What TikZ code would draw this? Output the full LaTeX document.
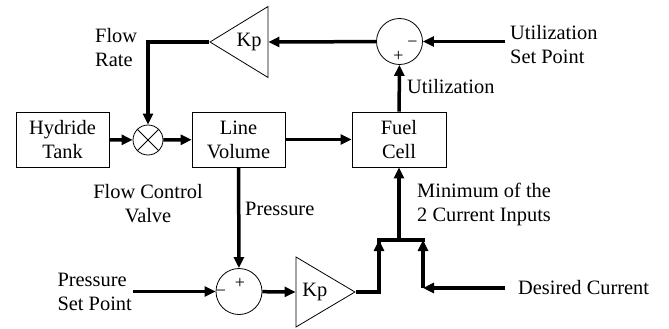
\documentclass[tikz,border=0pt]{standalone}
\usepackage{fontspec}
\setmainfont{Liberation Serif}
\usetikzlibrary{positioning,arrows.meta,shapes.geometric}
\tikzset{
  blk/.style={draw=black, line width=0.8pt, align=center, inner sep=2pt,
              minimum width=93pt, minimum height=55pt},
  sum/.style={circle, draw, line width=0.8pt, minimum size=46pt, inner sep=0pt},
  mix/.style={circle, draw, line width=0.8pt, minimum size=30pt, inner sep=0pt},
  gain/.style={isosceles triangle, isosceles triangle stretches, draw, line width=0.8pt,
               minimum width=71pt, minimum height=58pt, inner sep=0pt},
  ar/.style={-{Triangle[length=11pt,width=10pt]}, line width=3.5pt},
  wire/.style={line width=3.5pt},
  lbl/.style={align=left, inner sep=0pt},
  sgn/.style={font=\fontsize{18}{18}\selectfont, inner sep=0pt},
}

\begin{document}
\begin{tikzpicture}[x=1pt, y=-1pt, font=\fontsize{20.4}{24}\selectfont]
\useasboundingbox (0,0) rectangle (669,329);

% forward path
\node[blk] (tank) at (62.5,139.5) {Hydride\\Tank};
\node[mix] (valve) at (148,140) {};
\draw[line width=0.8pt] (valve.north west) -- (valve.south east)
                        (valve.north east) -- (valve.south west);
\node[blk] (vol)  at (238.5,139.5) {Line\\Volume};
\node[blk, minimum width=94pt] (cell) at (399,139.5) {Fuel\\Cell};

\draw[ar] (tank) -- (valve);
\draw[ar] (valve) -- (vol);
\draw[ar] (vol) -- (cell);
\node[align=center, inner sep=0pt] (fcv) at (148,204) {Flow Control\\Valve};

% utilization loop
\node[sum] (usum) at (399.5,41.5) {};
\node[sgn, xshift=13pt, yshift=-3pt] at (usum) {−};
\node[sgn, yshift=-15pt, xshift=-1pt] at (usum) {+};
\node[gain, shape border rotate=180, anchor=apex] (kpu) at (209,42) {Kp};
\node[lbl, anchor=west, inner xsep=5pt] (uset) at (505,45) {Utilization\\Set Point};
\node[lbl, anchor=west] (util) at (407,87) {Utilization};
\node[lbl, anchor=west] (frate) at (95,47.5) {Flow\\Rate};

\draw[ar] (cell) -- (usum);
\draw[ar] (uset.west |- usum) -- (usum);
\draw[ar] (usum) -- (kpu.east);
\draw[ar] (kpu.apex) -| (valve);

% pressure loop
\node[sum] (psum) at (239,291.5) {};
\node[sgn, xshift=1pt, yshift=8pt] at (psum) {+};
\node[sgn, xshift=-18pt, yshift=-2pt] at (psum) {−};
\node[gain, anchor=apex, minimum width=70pt, minimum height=59pt] (kpp) at (356,292) {Kp};
\node[lbl, anchor=east, inner xsep=1pt] (pset) at (133,291.5) {Pressure\\Set Point};
\node[lbl, anchor=west] (pres) at (245,209) {Pressure};

\draw[ar] (vol) -- (psum);
\draw[ar] (pset.east |- psum) -- (psum);
\draw[ar] (psum) -- (kpp.west);

% minimum of the two currents
\coordinate (jl) at (379,240);
\coordinate (jr) at (423,240);
\coordinate (jm) at (399,240);
\node[lbl, anchor=west, inner xsep=13pt] (dcur) at (505,288) {Desired Current};
\coordinate (dcorner) at (jr |- dcur.west);
\node[lbl, anchor=west] (mincur) at (417,204.5) {Minimum of the\\2 Current Inputs};

\draw[wire] (kpp.apex) -| ([yshift=-2pt]jl);
\draw[ar] (kpp.apex -| jl) -- (jl);
\draw[ar] (dcur.west) -- (dcorner);
\draw[ar] (dcorner) -- (jr);
\draw[wire] ([xshift=-1.75pt]jl) -- ([xshift=1.75pt]jr);
\draw[ar] (jm) -- (cell);

\end{tikzpicture}
\end{document}
